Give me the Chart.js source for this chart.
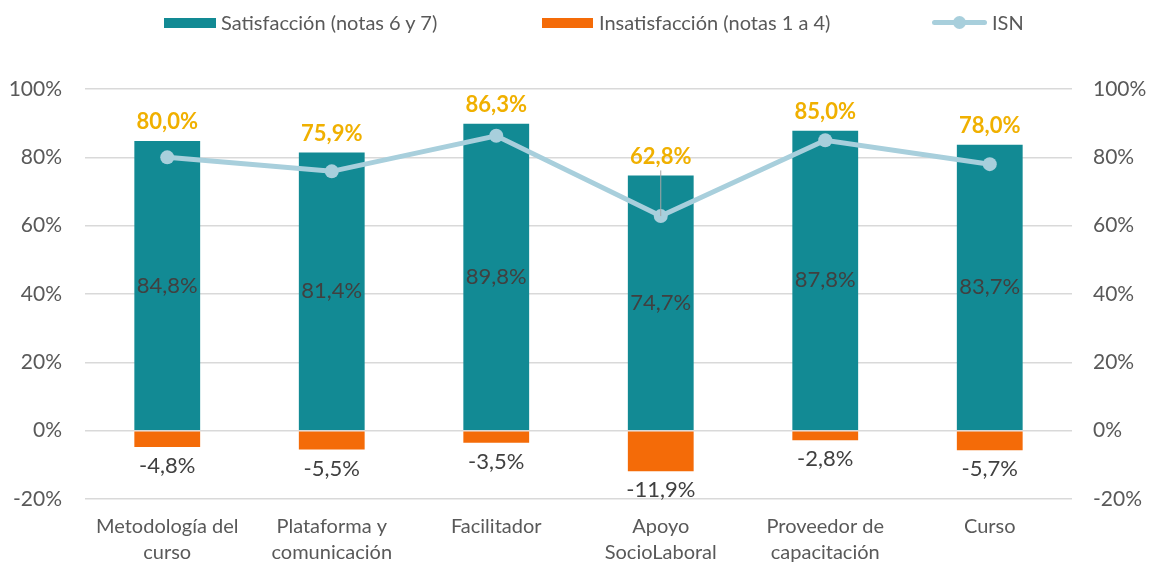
<!DOCTYPE html>
<html>
<head>
<meta charset="utf-8">
<title>ISN</title>
<style>
  body { margin: 0; background: #fff; }
  #wrap { position: relative; width: 1149px; height: 562px; }
  #legend { position: absolute; top: 0; left: 0; width: 1149px; height: 40px; font-family: Lato, sans-serif; font-size: 20px; color: #595959; }
  .item { position: absolute; top: 10px; height: 24px; line-height: 24px; white-space: nowrap; }
  .sw { position: absolute; }
</style>
</head>
<body>
<div id="wrap">
  <canvas id="chart" width="1149" height="562"></canvas>
  <div id="legend">
    <div class="sw" style="left:164px;top:18px;width:52px;height:10px;background:#128A94"></div>
    <div class="item" style="left:221px">Satisfacción (notas 6 y 7)</div>
    <div class="sw" style="left:542px;top:18px;width:51px;height:10px;background:#F46B08"></div>
    <div class="item" style="left:599px">Insatisfacción (notas 1 a 4)</div>
    <div class="sw" style="left:932px;top:20px;width:55px;height:5px;border-radius:3px;background:#A8CFDC"></div>
    <div class="sw" style="left:953px;top:16px;width:13px;height:13px;border-radius:50%;background:#A8CFDC"></div>
    <div class="item" style="left:992px">ISN</div>
  </div>
</div>
<script src="https://cdn.jsdelivr.net/npm/chart.js@4.4.0/dist/chart.umd.min.js"></script>
<script>
const categorias = [
  ['Metodología del', 'curso'],
  ['Plataforma y', 'comunicación'],
  'Facilitador',
  ['Apoyo', 'SocioLaboral'],
  ['Proveedor de', 'capacitación'],
  'Curso'
];
const satisfaccion = [84.8, 81.4, 89.8, 74.7, 87.8, 83.7];
const insatisfaccion = [-4.8, -5.5, -3.5, -11.9, -2.8, -5.7];
const isn = [80.0, 75.9, 86.3, 62.8, 85.0, 78.0];

const fmt = v => v.toFixed(1).replace('.', ',') + '%';
const FONT = 'Lato, sans-serif';

// value labels, placed like the excel ones
const labelPlugin = {
  id: 'valueLabels',
  afterDatasetsDraw(chart) {
    const ctx = chart.ctx;
    const sat = chart.getDatasetMeta(0).data;
    const ins = chart.getDatasetMeta(1).data;
    const pts = chart.getDatasetMeta(2).data;
    ctx.save();
    ctx.textAlign = 'center';
    ctx.textBaseline = 'middle';
    ctx.font = '22px ' + FONT;
    ctx.fillStyle = '#404040';
    sat.forEach((b, i) => ctx.fillText(fmt(satisfaccion[i]), b.x, (b.y + b.base) / 2));
    ins.forEach((b, i) => ctx.fillText(fmt(insatisfaccion[i]), b.x, b.y + 19));
    ctx.font = 'bold 22px ' + FONT;
    pts.forEach((p, i) => {
      const ly = sat[i].y - 19;
      if (p.y - ly > 45) {
        ctx.strokeStyle = '#A6A6A6';
        ctx.lineWidth = 1;
        ctx.beginPath();
        ctx.moveTo(p.x, ly + 14);
        ctx.lineTo(p.x, p.y);
        ctx.stroke();
      }
      ctx.fillStyle = '#F0B000';
      ctx.fillText(fmt(isn[i]), p.x, ly);
    });
    ctx.restore();
  }
};

new Chart(document.getElementById('chart'), {
  type: 'bar',
  data: {
    labels: categorias,
    datasets: [
      {
        label: 'Satisfacción (notas 6 y 7)',
        data: satisfaccion,
        backgroundColor: '#128A94',
        grouped: false,
        barPercentage: 0.4,
        categoryPercentage: 1,
        order: 2
      },
      {
        label: 'Insatisfacción (notas 1 a 4)',
        data: insatisfaccion,
        backgroundColor: '#F46B08',
        grouped: false,
        barPercentage: 0.4,
        categoryPercentage: 1,
        order: 3
      },
      {
        type: 'line',
        label: 'ISN',
        data: isn,
        borderColor: '#A8CFDC',
        backgroundColor: '#A8CFDC',
        borderWidth: 5,
        pointRadius: 7,
        pointBorderWidth: 0,
        tension: 0,
        order: 1
      }
    ]
  },
  options: {
    responsive: false,
    animation: false,
    layout: { padding: { top: 89, left: 0, right: 0, bottom: 0 } },
    plugins: {
      legend: { display: false },
      tooltip: { enabled: false }
    },
    scales: {
      x: {
        grid: { display: false },
        border: { display: false },
        ticks: {
          color: '#595959',
          font: { family: FONT, size: 20, lineHeight: 1.3 },
          padding: 7,
          maxRotation: 0
        },
        afterFit: s => { s.height = 63; }
      },
      y: {
        position: 'left',
        min: -20,
        max: 100,
        ticks: {
          stepSize: 20,
          color: '#595959',
          font: { family: FONT, size: 21 },
          padding: 23,
          callback: v => v + '%'
        },
        grid: { color: '#D9D9D9', lineWidth: 1.5, drawTicks: false },
        border: { display: false },
        afterFit: s => { s.width = 85; }
      },
      y2: {
        position: 'right',
        min: -20,
        max: 100,
        ticks: {
          stepSize: 20,
          color: '#595959',
          font: { family: FONT, size: 21 },
          padding: 21,
          callback: v => v + '%'
        },
        grid: { drawOnChartArea: false, drawTicks: false },
        border: { display: false },
        afterFit: s => { s.width = 77; }
      }
    }
  },
  plugins: [labelPlugin]
});
</script>
</body>
</html>
